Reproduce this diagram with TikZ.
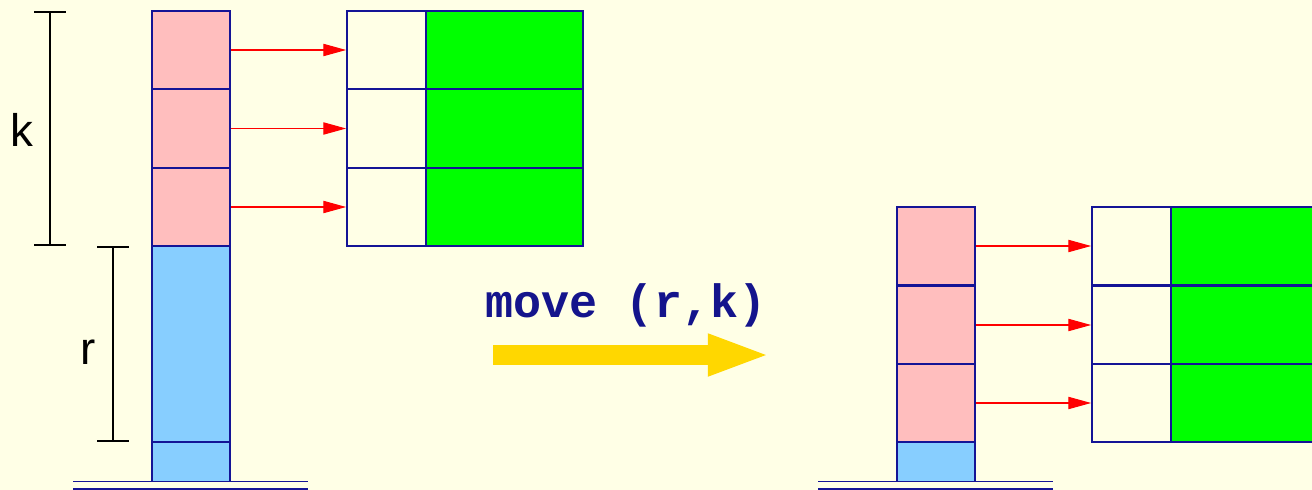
\documentclass[tikz,border=0pt]{standalone}
\usepackage{fontspec}
\setmainfont{Liberation Sans}
\newfontfamily\codefont{Liberation Mono}
\usetikzlibrary{arrows.meta}
\definecolor{bgyellow}{RGB}{255,255,230}
\definecolor{cellpink}{RGB}{255,190,190}
\definecolor{cellblue}{RGB}{135,206,255}
\definecolor{cellgreen}{RGB}{0,255,0}
\definecolor{edgeblue}{RGB}{20,20,150}
\definecolor{codeblue}{RGB}{20,20,140}
\definecolor{movegold}{RGB}{255,215,0}
\tikzset{
  cell/.style={draw=edgeblue,line width=1pt,inner sep=0pt,minimum width=1.56cm,minimum height=1.567cm},
  keycell/.style={cell,fill=bgyellow,minimum width=1.58cm},
  valcell/.style={cell,fill=cellgreen,minimum width=3.14cm},
  ptr/.style={-{Triangle[length=13pt,width=7pt]},red,line width=0.6pt},
  span/.style={{Bar[width=18pt]}-{Bar[width=18pt]},line width=1.2pt,black},
  ground/.style={edgeblue,line width=0.6pt}
}
\begin{document}
\begin{tikzpicture}[x=0.02cm,y=-0.02cm,every node/.style={font=\fontsize{26}{30}\selectfont}]
\fill[bgyellow] (0,0) rectangle (1312,490);
\useasboundingbox (0,0) rectangle (1312,490);
% left stack: k pink frames over r blue frames
\foreach \i/\y in {1/50,2/128.5,3/207} {
  \node[cell,fill=cellpink] (L\i) at (191,\y) {};
  \node[keycell] (LK\i) at (386.5,\y) {};
  \node[valcell] (LV\i) at (504.5,\y) {};
  \draw[ptr] (L\i.east) -- (LK\i.west);
}
\node[cell,fill=cellblue,minimum height=3.92cm] (Lr) at (191,344) {};
\node[cell,fill=cellblue,minimum height=0.79cm] (Lb) at (191,461.75) {};
\draw[ground] (73,481.5) -- (308,481.5);
\draw[ground] (73,489) -- (308,489);
% brackets
\coordinate (ktop) at (50,11);
\coordinate (kbot) at (50,246);
\coordinate (rtop) at (113,246);
\coordinate (rbot) at (113,442);
\draw[span] (ktop) -- (kbot);
\draw[span] (rtop) -- (rbot);
\node (klabel) at (22,130) {k};
\node (rlabel) at (88,352) {r};
% the move
\node[font=\fontsize{26.6}{30}\selectfont\codefont\bfseries,text=codeblue] (movetxt) at (626,305) {move (r,k)};
\coordinate (mvfrom) at (493,355);
\coordinate (mvto) at (771,355);
\draw[-{Triangle[length=36pt,width=21.5pt]},line width=11.3pt,movegold] (mvfrom) -- (mvto);
% right stack after the move
\foreach \i/\y in {1/246,2/325,3/403} {
  \node[cell,fill=cellpink] (R\i) at (936,\y) {};
  \node[keycell] (RK\i) at (1131.5,\y) {};
  \node[valcell] (RV\i) at (1249.5,\y) {};
  \draw[ptr] (R\i.east) -- (RK\i.west);
}
\node[cell,fill=cellblue,minimum height=0.79cm] (Rb) at (936,461.75) {};
\draw[ground] (818,481.5) -- (1053,481.5);
\draw[ground] (818,489) -- (1053,489);
\end{tikzpicture}
\end{document}
